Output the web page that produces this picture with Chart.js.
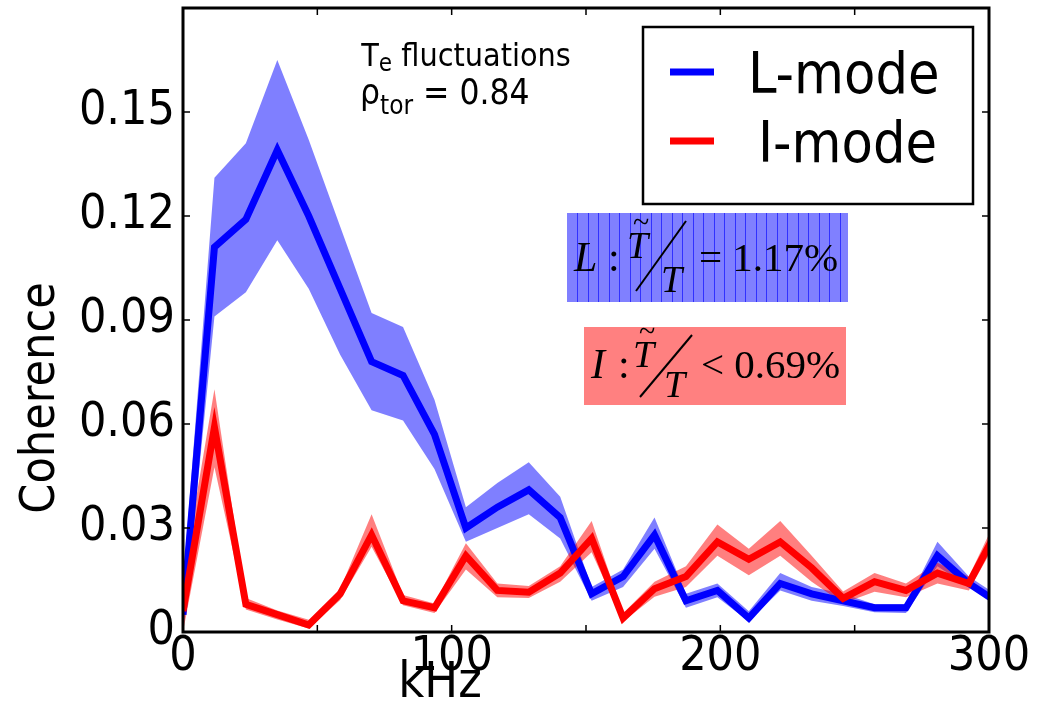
<!DOCTYPE html>
<html lang="en">
<head>
  <meta charset="UTF-8">
  <title>Coherence • Te fluctuations</title>
  <script src="https://cdn.jsdelivr.net/npm/chart.js"></script>
  <style>
    body { margin:0; background:#fff; }
    #wrap { width:1040px; height:703px; }
  </style>
</head>
<body>
<div id="wrap"><canvas id="chartCoh" width="1040" height="703"></canvas></div>

<script>
  // frequency points (kHz)
  const freqKHz = [0, 11.7, 23.4, 35.1, 46.8, 58.5, 70.2, 81.9, 93.6, 105.3, 117.0, 128.7, 140.4,
                   152.1, 163.8, 175.5, 187.2, 198.9, 210.6, 222.3, 234.0, 245.7, 257.4, 269.1, 280.8, 292.5, 304.2];

  // L-mode coherence and its error band
  const lMean = [0.005, 0.111, 0.119, 0.139, 0.120, 0.099, 0.078, 0.074, 0.057, 0.030, 0.036, 0.041, 0.033,
                 0.011, 0.016, 0.028, 0.009, 0.012, 0.004, 0.014, 0.011, 0.009, 0.007, 0.007, 0.022, 0.014, 0.008];
  const lHigh = [0.014, 0.131, 0.141, 0.165, 0.142, 0.117, 0.092, 0.088, 0.067, 0.036, 0.043, 0.049, 0.039,
                 0.013, 0.018, 0.033, 0.011, 0.014, 0.006, 0.017, 0.013, 0.011, 0.008, 0.008, 0.026, 0.016, 0.010];
  const lLow  = [0.000, 0.091, 0.098, 0.113, 0.099, 0.080, 0.064, 0.061, 0.047, 0.026, 0.030, 0.034, 0.027,
                 0.009, 0.013, 0.024, 0.007, 0.010, 0.003, 0.012, 0.009, 0.0075, 0.0057, 0.0055, 0.019, 0.013, 0.007];

  // I-mode coherence and its error band
  const iMean = [0.006, 0.059, 0.008, 0.005, 0.002, 0.011, 0.028, 0.009, 0.007, 0.022, 0.012, 0.0115, 0.017,
                 0.027, 0.004, 0.0125, 0.016, 0.026, 0.021, 0.026, 0.0185, 0.0097, 0.0145, 0.012, 0.017, 0.014, 0.031];
  const iHigh = [0.016, 0.070, 0.0098, 0.0062, 0.0035, 0.0125, 0.034, 0.0107, 0.0082, 0.0256, 0.014, 0.0133, 0.019,
                 0.032, 0.0054, 0.0145, 0.019, 0.031, 0.024, 0.032, 0.022, 0.0117, 0.017, 0.014, 0.020, 0.016, 0.035];
  const iLow  = [0.000, 0.0475, 0.0065, 0.0036, 0.001, 0.0092, 0.0246, 0.0077, 0.0055, 0.018, 0.010, 0.0098, 0.0145,
                 0.023, 0.003, 0.0102, 0.013, 0.022, 0.0164, 0.022, 0.0145, 0.0083, 0.0116, 0.010, 0.014, 0.012, 0.028];

  // ticks
  const xTicks      = [0, 50, 100, 150, 200, 250, 300];
  const xTickLabels = ['0', '', '100', '', '200', '', '300'];
  const yTicks      = [0, 0.03, 0.06, 0.09, 0.12, 0.15, 0.18];
  const yTickLabels = ['0', '0.03', '0.06', '0.09', '0.12', '0.15', ''];

  const SANS  = '"DejaVu Sans Condensed", "DejaVu Sans", sans-serif';
  const SERIF = '"Liberation Serif", "DejaVu Serif", serif';

  const pts = arr => freqKHz.map((f, i) => ({ x: f, y: arr[i] }));

  // frame, inward ticks and all the annotation text
  const decor = {
    id: 'decor',
    afterDraw(chart) {
      const ctx = chart.ctx;
      const a = chart.chartArea;
      const sx = chart.scales.x, sy = chart.scales.y;
      ctx.save();

      // inward ticks on all 4 sides
      ctx.strokeStyle = '#000'; ctx.lineWidth = 1.5;
      xTicks.forEach(v => {
        const px = sx.getPixelForValue(v);
        ctx.beginPath();
        ctx.moveTo(px, a.bottom); ctx.lineTo(px, a.bottom - 7);
        ctx.moveTo(px, a.top);    ctx.lineTo(px, a.top + 7);
        ctx.stroke();
      });
      yTicks.forEach(v => {
        const py = sy.getPixelForValue(v);
        ctx.beginPath();
        ctx.moveTo(a.left, py);  ctx.lineTo(a.left + 7, py);
        ctx.moveTo(a.right, py); ctx.lineTo(a.right - 7, py);
        ctx.stroke();
      });

      // frame
      ctx.lineWidth = 3;
      ctx.strokeRect(a.left, a.top, a.right - a.left, a.bottom - a.top);

      // axis titles
      ctx.fillStyle = '#000';
      ctx.font = '50px ' + SANS;
      ctx.textAlign = 'center'; ctx.textBaseline = 'middle';
      ctx.fillText('kHz', 440, 684);
      ctx.font = '48px ' + SANS;
      ctx.save();
      ctx.translate(42, 398); ctx.rotate(-Math.PI / 2);
      ctx.fillText('Coherence', 0, 0);
      ctx.restore();

      // Te fluctuations / rho_tor
      ctx.textAlign = 'left'; ctx.textBaseline = 'alphabetic';
      let big = '32px ' + SANS, small = '24px ' + SANS;
      ctx.font = big;  const wT = ctx.measureText('T').width;
      ctx.font = small; const we = ctx.measureText('e').width;
      ctx.font = big;  const wf = ctx.measureText(' fluctuations').width;
      let x0 = 466 - (wT + we + wf) / 2;
      ctx.font = big;  ctx.fillText('T', x0, 66);
      ctx.font = small; ctx.fillText('e', x0 + wT, 71);
      ctx.font = big;  ctx.fillText(' fluctuations', x0 + wT + we, 66);

      big = '35px ' + SANS; small = '26px ' + SANS;
      ctx.font = big;  const wr = ctx.measureText('\u03c1').width;
      ctx.font = small; const wt = ctx.measureText('tor').width;
      x0 = 360;
      ctx.font = big;  ctx.fillText('\u03c1', x0, 104);
      ctx.font = small; ctx.fillText('tor', x0 + wr, 114);
      ctx.font = big;  ctx.fillText(' = 0.84', x0 + wr + wt, 104);

      // legend
      ctx.strokeStyle = '#000'; ctx.lineWidth = 2.5;
      ctx.strokeRect(643, 27, 330, 177);
      const ds = chart.data.datasets;
      [[ds[4], 72, 93, 748], [ds[5], 141, 162, 758]].forEach(([d, ly, ty, tx]) => {
        ctx.strokeStyle = d.borderColor; ctx.lineWidth = 7;
        ctx.beginPath(); ctx.moveTo(670, ly); ctx.lineTo(714, ly); ctx.stroke();
        ctx.fillStyle = '#000'; ctx.font = '57px ' + SANS;
        ctx.fillText(d.label, tx, ty);
      });

      // L box (hatched blue)
      ctx.fillStyle = '#8080ff';
      ctx.fillRect(567, 213, 281, 89);
      ctx.strokeStyle = 'rgba(40,40,255,0.9)'; ctx.lineWidth = 1;
      for (let hx = 577; hx < 848; hx += 10.5) {
        ctx.beginPath(); ctx.moveTo(Math.round(hx) + 0.5, 213); ctx.lineTo(Math.round(hx) + 0.5, 302); ctx.stroke();
      }
      // I box
      ctx.fillStyle = '#ff8080';
      ctx.fillRect(584, 327, 262, 78);

      // formulas
      function ratio(lead, leadX, colonX, base, upX, upBase, sl, loX, loBase, rest, restX) {
        ctx.fillStyle = '#000'; ctx.strokeStyle = '#000';
        ctx.font = 'italic 42px ' + SERIF;
        ctx.fillText(lead, leadX, base);
        ctx.font = '42px ' + SERIF;
        ctx.fillText(':', colonX, base);
        ctx.font = 'italic 38px ' + SERIF;
        ctx.fillText('T', upX, upBase);
        ctx.fillText('T', loX, loBase);
        ctx.font = '30px ' + SERIF;
        ctx.fillText('~', upX + 6, upBase - 26);
        ctx.lineWidth = 2;
        ctx.beginPath(); ctx.moveTo(sl[0], sl[1]); ctx.lineTo(sl[2], sl[3]); ctx.stroke();
        ctx.font = '41px ' + SERIF;
        ctx.fillText(rest, restX, base);
      }
      ratio('L', 574, 608, 271, 627, 258, [636, 291, 686, 221], 661, 292, '= 1.17%', 699);
      ratio('I', 591, 618, 378, 633, 367, [640, 397, 692, 335], 664, 397, '< 0.69%', 701);

      ctx.restore();
    }
  };

  const lineBase = { pointRadius: 0, tension: 0, borderJoinStyle: 'miter' };

  new Chart(document.getElementById('chartCoh'), {
    type: 'line',
    data: {
      datasets: [
        { ...lineBase, label: 'L band', data: pts(lHigh), fill: '+1', backgroundColor: 'rgba(0,0,255,0.5)',
          borderColor: 'rgba(0,0,0,0)', borderWidth: 0, order: 3 },
        { ...lineBase, label: 'L low', data: pts(lLow), fill: false,
          borderColor: 'rgba(0,0,0,0)', borderWidth: 0, order: 3 },
        { ...lineBase, label: 'I band', data: pts(iHigh), fill: '+1', backgroundColor: 'rgba(255,0,0,0.5)',
          borderColor: 'rgba(0,0,0,0)', borderWidth: 0, order: 2 },
        { ...lineBase, label: 'I low', data: pts(iLow), fill: false,
          borderColor: 'rgba(0,0,0,0)', borderWidth: 0, order: 2 },
        { ...lineBase, label: 'L-mode', data: pts(lMean), borderColor: '#0000ff', borderWidth: 7, fill: false, order: 1 },
        { ...lineBase, label: 'I-mode', data: pts(iMean), borderColor: '#ff0000', borderWidth: 7, fill: false, order: 0 }
      ]
    },
    options: {
      responsive: false,
      animation: false,
      layout: { padding: { left: 0, right: 51, top: 8, bottom: 0 } },
      plugins: { legend: { display: false }, tooltip: { enabled: false } },
      scales: {
        x: {
          type: 'linear', min: 0, max: 300,
          grid: { display: false, drawTicks: false },
          border: { display: false },
          afterBuildTicks: s => { s.ticks = xTicks.map(v => ({ value: v })); },
          afterFit: s => { s.height = 71; s.paddingLeft = 0; s.paddingRight = 0; },
          ticks: {
            padding: -3, maxRotation: 0, autoSkip: false,
            color: '#000', font: { size: 48, family: SANS },
            callback: (v, i) => xTickLabels[i]
          }
        },
        y: {
          min: 0, max: 0.18,
          grid: { display: false, drawTicks: false },
          border: { display: false },
          afterBuildTicks: s => { s.ticks = yTicks.map(v => ({ value: v })); },
          afterFit: s => { s.width = 183; s.paddingTop = 0; s.paddingBottom = 0; },
          ticks: {
            padding: 8, autoSkip: false,
            color: '#000', font: { size: 48, family: SANS },
            callback: (v, i) => yTickLabels[i]
          }
        }
      }
    },
    plugins: [decor]
  });
</script>
</body>
</html>
